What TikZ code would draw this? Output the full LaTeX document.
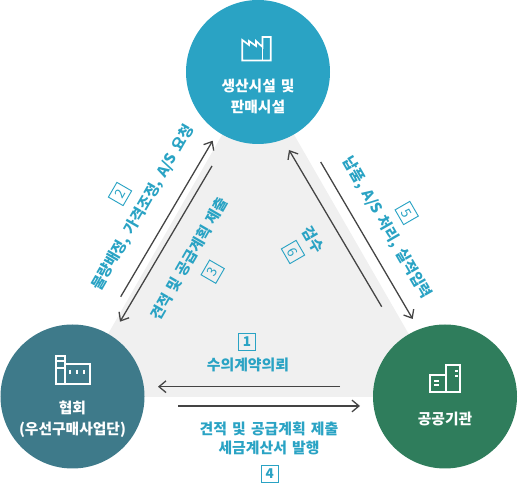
\documentclass[tikz,border=0pt]{standalone}
\usepackage{fontspec}
\setmainfont{Noto Sans CJK KR}[WordSpace=1.5]
\usetikzlibrary{arrows.meta}
\definecolor{topblue}{HTML}{2AA3C4}
\definecolor{leftteal}{HTML}{3E7A8A}
\definecolor{rightgreen}{HTML}{2F7D5C}
\definecolor{trigray}{HTML}{F0F0F0}
\definecolor{arrowgray}{HTML}{444444}
\tikzset{
  party/.style={circle,minimum size=144*0.03cm,inner sep=0pt},
  partytext/.style={text=white,font=\fontsize{12.6}{18}\selectfont\bfseries,align=center},
  flow/.style={draw=arrowgray,line width=1.1pt,-{Straight Barb[length=6pt,width=10pt,line width=1.1pt]}},
  flowtext/.style={text=topblue,font=\fontsize{12.7}{16.3}\selectfont\bfseries,align=center},
  numbox/.style={draw=topblue,line width=0.8pt,text=topblue,minimum size=17*0.03cm,inner sep=0pt,font=\fontsize{11.5}{11.5}\selectfont},
  numboxbold/.style={numbox,font=\fontsize{11.5}{11.5}\selectfont\bfseries},
  iconline/.style={draw=white,line width=1.4pt,line join=miter},
  iconmark/.style={draw=white,line width=1.5pt}
}
\begin{document}
\begin{tikzpicture}[x=0.03cm,y=-0.03cm]
  \useasboundingbox (0,0) rectangle (518,483);
  \fill[trigray] (258,72) -- (72,397) -- (445,397) -- cycle;
  % circles
  \node[party,fill=topblue] (plant) at (258,72) {};
  \node[party,fill=leftteal] (assoc) at (72.5,396.5) {};
  \node[party,fill=rightgreen] (public) at (445,396.5) {};
  \node[partytext] (plantname) at (258,96.5) {생산시설 및\\판매시설};
  \node[partytext] (assocname) at (72.5,419) {협회\\(우선구매사업단)};
  \node[partytext] (publicname) at (445,419) {공공기관};
  % factory icon
  \draw[iconline] (242.3,40) -- (242.3,60.5) -- (270.7,60.5) -- (270.7,37) -- (262.5,37) -- (262.5,47)
    -- (256,41) -- (256,46) -- (249,41) -- (249,45) -- cycle;
  \draw[iconline] (262.5,47) -- (262.5,60.5);
  % association icon
  \draw[iconline] (56.3,356) rectangle (64.7,384.3);
  \draw[iconline] (56.3,361) -- (64.7,361) (56.3,368) -- (64.7,368);
  \draw[iconline] (64.7,364) -- (89.7,364) -- (89.7,384.3) -- (64.7,384.3);
  \foreach \xpos in {70.3,77,83.7} \draw[iconmark] (\xpos,370) -- (\xpos,374);
  % public office icon
  \draw[iconline] (446,365.3) rectangle (460.3,392.3);
  \draw[iconline] (446,375.3) -- (430.3,375.3) -- (430.3,392.3) -- (446,392.3);
  \foreach \ypos in {370.7,376.3} \draw[iconmark] (455,\ypos) -- (457.7,\ypos);
  \foreach \ypos in {380.7,384.7} \draw[iconmark] (434.3,\ypos) -- (438.7,\ypos);
  % arrows
  \coordinate (a1s) at (340,386.7);
  \coordinate (a1e) at (158,386.7);
  \coordinate (a2s) at (120.7,296.7);
  \coordinate (a2e) at (212.7,140.7);
  \coordinate (a3s) at (212,166);
  \coordinate (a3e) at (120,321.7);
  \coordinate (a4s) at (178,406);
  \coordinate (a4e) at (360,406);
  \coordinate (a5s) at (320.7,162);
  \coordinate (a5e) at (412.7,319);
  \coordinate (a6s) at (381.7,306.7);
  \coordinate (a6e) at (289,150);
  \foreach \n in {1,...,6} \draw[flow] (a\n s) -- (a\n e);
  % labels
  \node[flowtext] (t1) at (248,365) {수의계약의뢰};
  \node[flowtext,rotate=60] (t2) at (143,208) {물량배정, 가격조정, A/S 요청};
  \node[flowtext,rotate=60] (t3) at (189,259) {견적 및 공급계획 제출};
  \node[flowtext] (t4) at (269,438.5) {견적 및 공급계획 제출\\세금계산서 발행};
  \node[flowtext,rotate=-60] (t5) at (387,228) {납품, A/S 처리, 실적입력};
  \node[flowtext,rotate=-60] (t6) at (313,240) {검수};
  \node[numboxbold] (n1) at (247,342) {1};
  \node[numbox,rotate=60] (n2) at (120,194) {2};
  \node[numbox,rotate=60] (n3) at (212.7,271.7) {3};
  \node[numboxbold] (n4) at (269.7,473.7) {4};
  \node[numbox,rotate=-60] (n5) at (406.7,213) {5};
  \node[numbox,rotate=-60] (n6) at (293,252) {6};
\end{tikzpicture}
\end{document}
